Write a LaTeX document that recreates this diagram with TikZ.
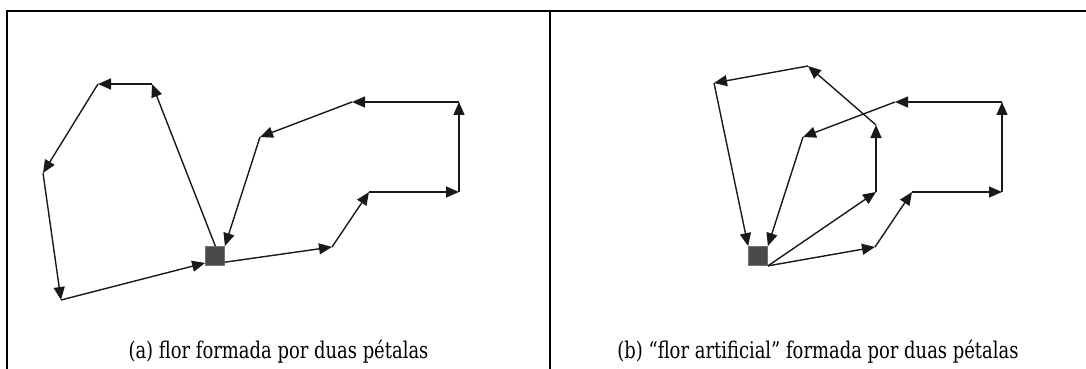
\documentclass[tikz,border=0pt]{standalone}
\usepackage{fontspec}
\setmainfont{DejaVu Serif}[FakeStretch=0.78]
\usepackage{tikz}
\usetikzlibrary{arrows.meta}
\definecolor{raizcor}{RGB}{74,74,74}

\begin{document}
\begin{tikzpicture}[
  x=0.5pt, y=-0.5pt,
  seta/.style={-{Triangle[length=6.5pt,width=5.5pt]}, line width=0.7pt, color=black!90},
  raiz/.style={draw=black!55, line width=0.4pt, fill=raizcor, minimum size=9.5pt, inner sep=0pt},
  legenda/.style={anchor=base, font=\fontsize{11.5}{14}\selectfont},
  moldura/.style={line width=1pt, line cap=rect}]
  \useasboundingbox (0,0) rectangle (1086,369);
  % moldura da tabela
  \draw[moldura] (7,369) -- (7,11) -- (1086,11);
  \draw[moldura] (550,11) -- (550,369);

  % (a) flor formada por duas petalas
  \node[raiz] (ra) at (215,256) {};
  \coordinate (a1) at (152,84);
  \coordinate (a2) at (98,84);
  \coordinate (a3) at (43,173);
  \coordinate (a4) at (61,300);
  \coordinate (a5) at (332,247);
  \coordinate (a6) at (369,192);
  \coordinate (a7) at (459,192);
  \coordinate (a8) at (459,102);
  \coordinate (a9) at (352,102);
  \coordinate (a10) at (260,137);
  \draw[seta] (ra.88) -- (a1);
  \draw[seta] (a1) -- (a2);
  \draw[seta] (a2) -- (a3);
  \draw[seta] (a3) -- (a4);
  \draw[seta] (a4) -- (ra.215);
  \draw[seta] (ra.328) -- (a5);
  \draw[seta] (a5) -- (a6);
  \draw[seta] (a6) -- (a7);
  \draw[seta] (a7) -- (a8);
  \draw[seta] (a8) -- (a9);
  \draw[seta] (a9) -- (a10);
  \draw[seta] (a10) -- (ra.north east);
  \node[legenda] (la) at (278.5,358) {(a) flor formada por duas pétalas};

  % (b) flor artificial
  \node[raiz] (rb) at (758,256) {};
  \coordinate (b1) at (876,192);
  \coordinate (b2) at (876,125);
  \coordinate (b3) at (808,66);
  \coordinate (b4) at (714,83);
  \coordinate (b5) at (875,247);
  \coordinate (b6) at (912,192);
  \coordinate (b7) at (1002,192);
  \coordinate (b8) at (1002,102);
  \coordinate (b9) at (895,102);
  \coordinate (b10) at (803,137);
  \draw[seta] (rb.south east) -- (b1);
  \draw[seta] (b1) -- (b2);
  \draw[seta] (b2) -- (b3);
  \draw[seta] (b3) -- (b4);
  \draw[seta] (b4) -- (rb.north west);
  \draw[seta] (rb.south east) -- (b5);
  \draw[seta] (b5) -- (b6);
  \draw[seta] (b6) -- (b7);
  \draw[seta] (b7) -- (b8);
  \draw[seta] (b8) -- (b9);
  \draw[seta] (b9) -- (b10);
  \draw[seta] (b10) -- (rb.north east);
  \node[legenda] (lb) at (818,358) {(b) “flor artificial” formada por duas pétalas};
\end{tikzpicture}
\end{document}
